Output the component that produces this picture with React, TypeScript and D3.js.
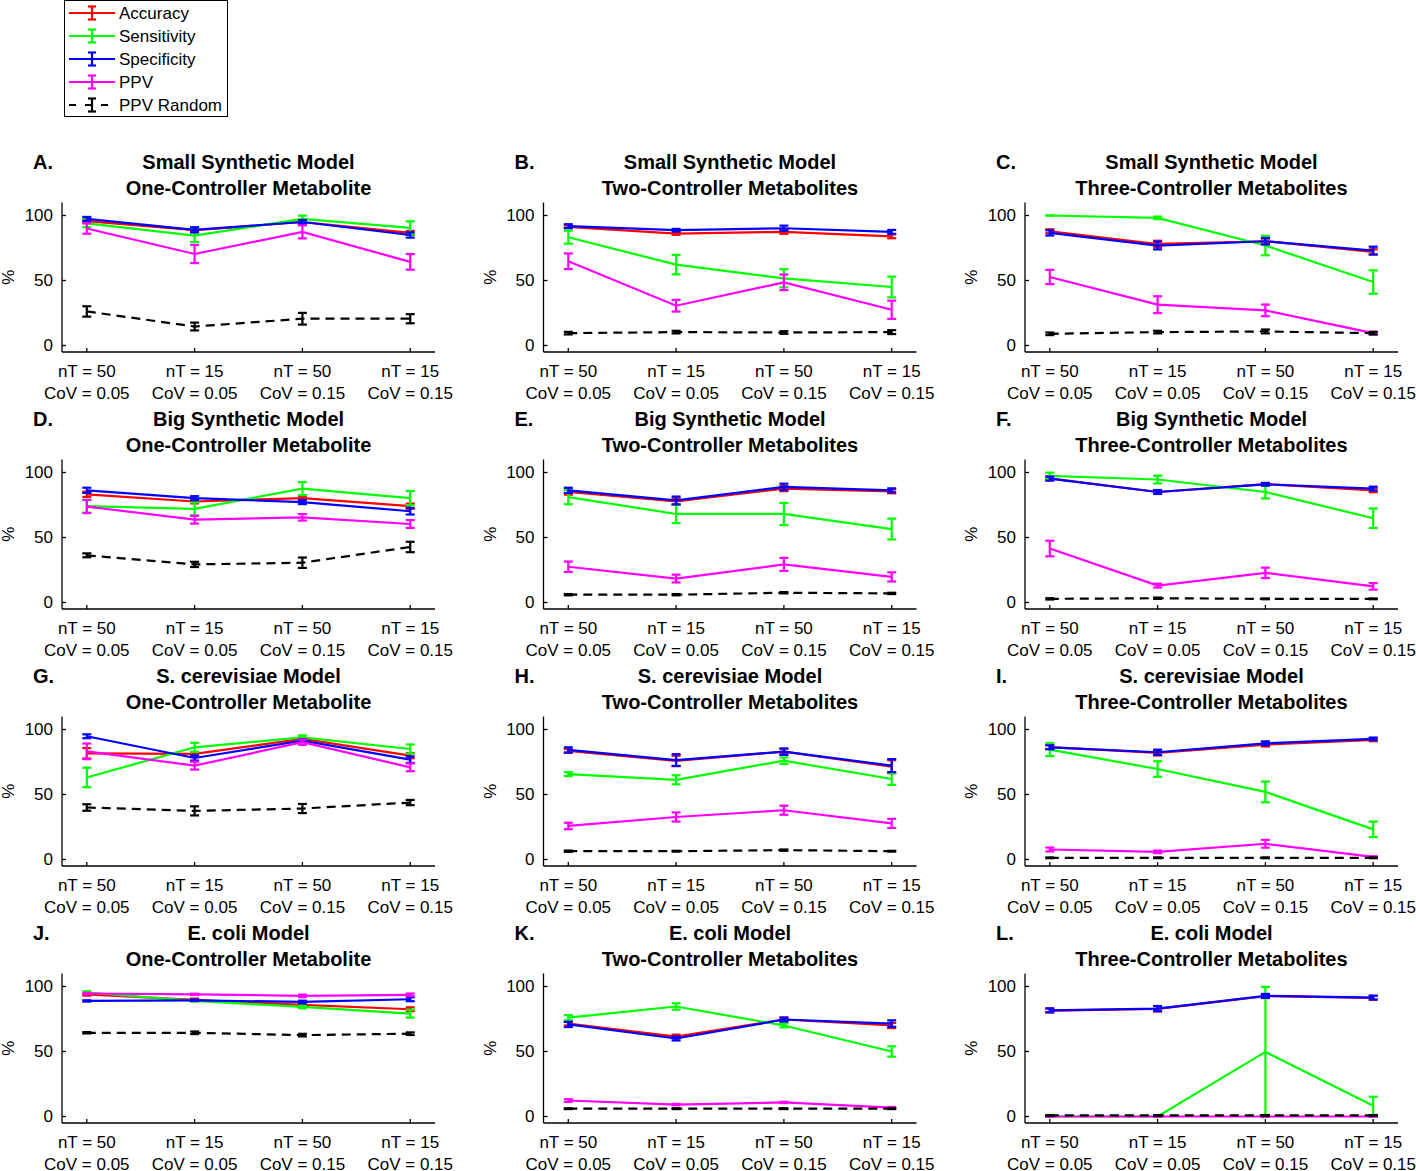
import React from "react";
import * as d3 from "d3";

const panelLetters = ["A.", "B.", "C.", "D.", "E.", "F.", "G.", "H.", "I.", "J.", "K.", "L."];
const modelNames = ["Small Synthetic Model", "Big Synthetic Model", "S. cerevisiae Model", "E. coli Model"];
const controllerNames = ["One-Controller Metabolite", "Two-Controller Metabolites", "Three-Controller Metabolites"];
const xTickNT = ["nT = 50", "nT = 15", "nT = 50", "nT = 15"];
const xTickCoV = ["CoV = 0.05", "CoV = 0.05", "CoV = 0.15", "CoV = 0.15"];
const conditions = [1, 2, 3, 4];
const yTicks = [0, 50, 100];

// Panels in order A..L (row-major)
const accuracyMean = [
  [95.6, 88.7, 95, 86.6], [91.3, 86.1, 87.4, 84], [87.9, 78.1, 80.2, 72],
  [83.2, 77.7, 80.3, 74.1], [85, 77.7, 87.6, 85.5], [95.5, 85, 91, 86.3],
  [81.7, 81.2, 92.8, 79.9], [83.5, 75.8, 83, 71.4], [86.5, 82, 88.4, 92],
  [94, 89.7, 85.8, 82.5], [71.5, 61.5, 74.6, 70], [81.5, 82.8, 92.6, 91.3],
];
const accuracyErr = [
  [1.5, 1.5, 1.5, 1.5], [1, 1, 1.5, 1.5], [1.5, 2.5, 2, 2],
  [2, 1.5, 1.5, 2], [2, 2.5, 2, 1.5], [1.5, 1.5, 1, 1.5],
  [4, 1.5, 1, 2], [1.5, 4, 2, 5], [1.5, 2, 1.5, 1],
  [1, 1, 1, 1.5], [1.5, 1.5, 1.5, 2], [1.5, 2, 1.5, 1.5],
];
const sensitivityMean = [
  [94, 84.6, 97.4, 90.5], [83.3, 62.2, 51.7, 45], [100, 98.2, 76.9, 48.8],
  [74.1, 72, 87.6, 80.3], [81.1, 68.1, 68.1, 56.5], [97.4, 94.6, 85, 64.8],
  [63.1, 86.3, 94, 85], [65.7, 61.3, 76, 61.9], [84.5, 69.6, 52, 23.2],
  [95.4, 88.9, 84.3, 79.1], [76, 84.6, 70, 50], [0, 0, 49.7, 8.2],
];
const sensitivityErr = [
  [3, 5, 2.5, 5], [5, 7.5, 7, 8], [0, 1, 7.5, 9],
  [5, 5, 5, 5.5], [5.5, 7, 8.5, 8], [2.5, 3, 5, 7.5],
  [7.5, 3.5, 1.5, 3.5], [1.5, 3.5, 2.5, 4.5], [5, 6, 8, 6],
  [1, 0.5, 1, 3], [2, 2.5, 1.5, 4], [0, 0, 50, 7],
];
const specificityMean = [
  [97.4, 89, 95, 85], [91.8, 88.7, 90.2, 87.4], [86.6, 76.9, 80.2, 73],
  [86.3, 80.3, 77.2, 70.2], [86.3, 78.5, 88.9, 86.3], [95.3, 85, 90.9, 87.6],
  [94.8, 78.1, 91.5, 76.8], [84.3, 76.5, 83, 72.2], [86.3, 82.5, 89.4, 92.8],
  [88.9, 89.4, 88.1, 90.2], [70.8, 60, 74.6, 71.5], [81.7, 83, 92.8, 91.5],
];
const specificityErr = [
  [1.5, 2, 1.5, 2], [1.5, 1, 2, 1.5], [2, 3, 2.5, 3],
  [2, 1.5, 1.5, 2.5], [2, 3, 2.5, 1.5], [1.5, 1.5, 1, 1.5],
  [1.5, 2, 1, 2.5], [2, 4.5, 2.5, 5], [1.5, 2, 1.5, 1],
  [0.5, 0.5, 1, 1.5], [2, 1.5, 1.5, 2.5], [1.5, 2, 1.5, 1.5],
];
const ppvMean = [
  [90, 70.4, 87.4, 64.3], [64.8, 30.6, 48.6, 27.5], [52.7, 31.4, 27, 9.5],
  [73.8, 63.7, 65.5, 60.4], [27.5, 18.4, 29.3, 19.7], [41.5, 13, 22.8, 12.4],
  [83.2, 72.2, 90.2, 70.9], [25.8, 32.7, 37.9, 27.8], [7.7, 5.9, 12.1, 2],
  [94.6, 94, 92.8, 93.6], [12.3, 9.2, 10.8, 6.9], [0, 0, 0, 0],
];
const ppvErr = [
  [4, 7, 5, 6], [6, 4.5, 6, 7], [5.5, 6.5, 4.5, 1],
  [5, 3, 2.5, 3], [4, 3, 5, 3.5], [6, 1.5, 4, 2.5],
  [6, 3, 2, 3], [2.5, 3.5, 3.5, 3.5], [1.5, 1, 3, 0.5],
  [0.5, 0.5, 1, 1], [1, 0.5, 0.5, 0.5], [0, 0, 0, 0],
];
const ppvRandomMean = [
  [26.2, 14.6, 20.6, 20.6], [9.5, 10.3, 10, 10.3], [9, 10.3, 10.8, 9.5],
  [36.3, 29.3, 30.6, 42.7], [6, 6, 7.5, 7], [2.8, 3.3, 2.8, 2.8],
  [40, 37.4, 39.2, 43.8], [6.4, 6.4, 7.2, 6.4], [1.3, 1.3, 1.3, 1.3],
  [64.4, 64.4, 62.6, 63.7], [6, 6, 6, 6], [0.8, 0.8, 0.8, 0.8],
];
const ppvRandomErr = [
  [4, 3, 4.5, 3.5], [1, 1, 1, 1.5], [1, 1, 1.5, 1],
  [1.5, 2, 4, 4], [0.5, 0.5, 0.5, 0.5], [0.5, 0.5, 0.3, 0.3],
  [2.5, 3.5, 3.5, 2], [0.5, 0.3, 0.5, 0.3], [0.3, 0.3, 0.3, 0.3],
  [0.5, 1, 1, 1], [0.3, 0.3, 0.3, 0.3], [0.3, 0.3, 0.3, 0.3],
];

const seriesNames = ["Accuracy", "Sensitivity", "Specificity", "PPV", "PPV Random"];
const seriesColors = ["#ff0000", "#00ff00", "#0000ff", "#ff00ff", "#000000"];
const seriesMeans = [accuracyMean, sensitivityMean, specificityMean, ppvMean, ppvRandomMean];
const seriesErrs = [accuracyErr, sensitivityErr, specificityErr, ppvErr, ppvRandomErr];
const seriesDash = [null, null, null, null, "9,6"];

const FONT = "'Liberation Sans', Arial, Helvetica, sans-serif";
const W = 1416;
const H = 1171;
const colLeft = [62, 543.5, 1025];
const rowBottom = [352, 609, 866, 1123];
const axisWidth = 373;
const axisHeight = 149.5;

function Panel({ idx }: { idx: number }) {
  const row = Math.floor(idx / 3);
  const col = idx % 3;
  const left = colLeft[col];
  const bottom = rowBottom[row];
  const x = d3.scaleLinear().domain([0.77, 4.23]).range([left, left + axisWidth]);
  const y = d3.scaleLinear().domain([-5, 110]).range([bottom, bottom - axisHeight]);
  const cx = left + axisWidth / 2;
  const line = d3
    .line<[number, number]>()
    .x((d) => x(d[0]))
    .y((d) => y(d[1]));
  const cap = 4.5;
  return (
    <g>
      <text x={left - 29} y={bottom - 183} fontFamily={FONT} fontWeight="bold" fontSize={20}>
        {panelLetters[idx]}
      </text>
      <text x={cx} y={bottom - 183} fontFamily={FONT} fontWeight="bold" fontSize={20} textAnchor="middle">
        {modelNames[row]}
      </text>
      <text x={cx} y={bottom - 157} fontFamily={FONT} fontWeight="bold" fontSize={20} textAnchor="middle">
        {controllerNames[col]}
      </text>
      {/* axes */}
      <line x1={left} x2={left} y1={bottom} y2={y(110)} stroke="#000" strokeWidth={1.3} />
      <line x1={left} x2={left + axisWidth} y1={bottom} y2={bottom} stroke="#000" strokeWidth={1.3} />
      {yTicks.map((t) => (
        <g key={"yt" + t}>
          <line x1={left} x2={left + 4} y1={y(t)} y2={y(t)} stroke="#000" strokeWidth={1.3} />
          <text x={left - 9} y={y(t)} dy="0.35em" fontFamily={FONT} fontSize={17} textAnchor="end">
            {t}
          </text>
        </g>
      ))}
      {conditions.map((c, i) => (
        <g key={"xt" + c}>
          <line x1={x(c)} x2={x(c)} y1={bottom} y2={bottom - 4} stroke="#000" strokeWidth={1.3} />
          <text x={x(c)} y={bottom + 25} fontFamily={FONT} fontSize={17} textAnchor="middle">
            {xTickNT[i]}
          </text>
          <text x={x(c)} y={bottom + 47} fontFamily={FONT} fontSize={17} textAnchor="middle">
            {xTickCoV[i]}
          </text>
        </g>
      ))}
      <text
        transform={`translate(${left - 48},${bottom - axisHeight / 2}) rotate(-90)`}
        fontFamily={FONT}
        fontSize={17}
        textAnchor="middle"
      >
        %
      </text>
      {seriesMeans.map((means, s) => {
        const vals = means[idx];
        const errs = seriesErrs[s][idx];
        const pts = conditions.map((c, i) => [c, vals[i]] as [number, number]);
        const color = seriesColors[s];
        return (
          <g key={"s" + s}>
            <path
              d={line(pts) || ""}
              fill="none"
              stroke={color}
              strokeWidth={2.2}
              strokeDasharray={seriesDash[s] || undefined}
            />
            {conditions.map((c, i) => {
              const xc = x(c);
              const y1 = y(vals[i] - errs[i]);
              const y2 = y(vals[i] + errs[i]);
              return (
                <g key={"e" + i} stroke={color} strokeWidth={2.2}>
                  <line x1={xc} x2={xc} y1={y1} y2={y2} />
                  <line x1={xc - cap} x2={xc + cap} y1={y1} y2={y1} />
                  <line x1={xc - cap} x2={xc + cap} y1={y2} y2={y2} />
                </g>
              );
            })}
          </g>
        );
      })}
    </g>
  );
}

function Legend() {
  const rows = d3.range(seriesNames.length);
  const yPos = d3.scaleLinear().domain([0, 4]).range([13, 105]);
  return (
    <g>
      <rect x={64.5} y={0.5} width={163} height={116} fill="#fff" stroke="#000" strokeWidth={1} />
      {rows.map((i) => {
        const yy = yPos(i);
        const color = seriesColors[i];
        return (
          <g key={"l" + i}>
            <line
              x1={69}
              x2={115}
              y1={yy}
              y2={yy}
              stroke={color}
              strokeWidth={2.2}
              strokeDasharray={seriesDash[i] ? "7,9" : undefined}
              strokeDashoffset={seriesDash[i] ? 0 : undefined}
            />
            <g stroke={color} strokeWidth={2.2}>
              <line x1={92} x2={92} y1={yy - 6.5} y2={yy + 6.5} />
              <line x1={88} x2={96} y1={yy - 6.5} y2={yy - 6.5} />
              <line x1={88} x2={96} y1={yy + 6.5} y2={yy + 6.5} />
            </g>
            <text x={119} y={yy} dy="0.35em" fontFamily={FONT} fontSize={17}>
              {seriesNames[i]}
            </text>
          </g>
        );
      })}
    </g>
  );
}

export default function App() {
  return (
    <svg
      width={W}
      height={H}
      style={{ position: "absolute", left: 0, top: 0, background: "#fff" }}
    >
      <rect x={0} y={0} width={W} height={H} fill="#fff" />
      {d3.range(12).map((i) => (
        <Panel key={i} idx={i} />
      ))}
      <Legend />
    </svg>
  );
}
